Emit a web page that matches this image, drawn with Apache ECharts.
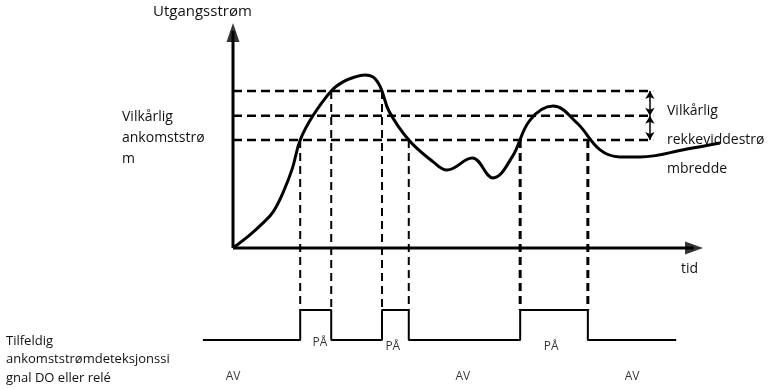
<!DOCTYPE html>
<html>
<head>
<meta charset="utf-8">
<script src="https://cdn.jsdelivr.net/npm/echarts@6/dist/echarts.min.js"></script>
<style>
  html, body { margin: 0; padding: 0; background: #fff; }
  #chart { width: 774px; height: 389px; }
</style>
</head>
<body>
<div id="chart"></div>
<script>
// Output current over time (arbitrary units: time 0..100, current 0..100)
const curveTime    = [0, 3.6, 6.4, 8.5, 10.6, 12.6, 14.3, 17.0, 20.9, 23.4, 26.0, 28.1, 29.8, 30.9, 31.7, 33.2, 37.4, 42.6, 45.5, 50.9, 55.3, 59.4, 63.2, 68.1, 73.2, 78.1, 82.3, 86.6, 96.6, 103.6];
const curveCurrent = [0, 5.8, 11.1, 15.9, 24.3, 35.0, 47.8, 58.5, 69.5, 73.5, 75.7, 76.5, 75.7, 73.0, 69.5, 60.5, 47.8, 38.1, 34.5, 39.8, 31.0, 40.3, 56.6, 62.8, 55.3, 43.4, 40.3, 40.3, 43.8, 46.5];

// Threshold levels (low, middle, high) and where the dashed guides stop
const thresholds = [47.8, 58.5, 69.5];
const thresholdEnd = 89.4;
const bandArrowTime = 88.7;

// Moments where the current crosses a threshold, and the level crossed
const crossTime  = [14.3, 20.9, 31.7, 37.4, 61.1, 75.5];
const crossLevel = [47.8, 69.5, 69.5, 47.8, 47.8, 47.8];

// Detection signal (DO / relay): ON between pairs of crossings
const signalStart = -6.4;
const signalEnd = 94.3;
const signalHigh = -27.4;
const signalLow = -40.7;

// State labels under the signal trace
const onLabelTime  = [18.5, 34.0, 67.7];
const onLabelLevel = [-42.0, -43.4, -43.8];
const offLabelTime  = [0, 48.9, 84.9];
const offLabelLevel = [-57.1, -57.1, -57.1];

// Axis extents
const timeAxisEnd = 100;
const currentAxisEnd = 100;

const FONT = 'Open Sans';

// Step trace of the signal
const signalData = [[signalStart, signalLow]];
crossTime.forEach((t, i) => {
  signalData.push([t, i % 2 === 0 ? signalHigh : signalLow]);
});
signalData.push([signalEnd, signalLow]);

const series = [];

// horizontal threshold guides
thresholds.forEach(v => {
  series.push({
    type: 'line', data: [[0, v], [thresholdEnd, v]], symbol: 'none', silent: true,
    lineStyle: { color: '#000', width: 2.5, type: [9, 5] }, z: 2
  });
});

// vertical guides from each crossing down to the signal
crossTime.forEach((t, i) => {
  series.push({
    type: 'line', data: [[t, crossLevel[i]], [t, signalHigh]], symbol: 'none', silent: true,
    lineStyle: { color: '#000', width: i >= 4 ? 3 : 2, type: [8, 5] }, z: 2
  });
});

// axes drawn as heavy lines with arrowheads
series.push({
  type: 'line', data: [[0, 0], [timeAxisEnd - 2, 0]], symbol: 'none', silent: true,
  lineStyle: { color: '#000', width: 3 }, z: 4
});
series.push({
  type: 'line', data: [[0, 0], [0, currentAxisEnd - 4]], symbol: 'none', silent: true,
  lineStyle: { color: '#000', width: 3 }, z: 4
});
series.push({
  type: 'scatter', silent: true, z: 5,
  data: [{ value: [timeAxisEnd - 1.9, 0], symbolRotate: -90, symbolSize: [13, 18] },
         { value: [0, currentAxisEnd - 4.6], symbolRotate: 0, symbolSize: [13, 19] }],
  symbol: 'triangle', itemStyle: { color: '#000' }
});

// band width arrows between the thresholds
series.push({
  type: 'line', data: [], symbol: 'none', silent: true,
  markLine: {
    silent: true, symbol: ['arrow', 'arrow'], symbolSize: [7, 8],
    label: { show: false },
    lineStyle: { color: '#000', width: 1.5, type: 'solid' },
    data: [
      [{ coord: [bandArrowTime, thresholds[2]] }, { coord: [bandArrowTime, thresholds[1]] }],
      [{ coord: [bandArrowTime, thresholds[1]] }, { coord: [bandArrowTime, thresholds[0]] }]
    ]
  }
});

// current curve
series.push({
  type: 'line', data: curveTime.map((t, i) => [t, curveCurrent[i]]), symbol: 'none',
  smooth: 0.4, silent: true, clip: false,
  lineStyle: { color: '#000', width: 3 }, z: 6
});

// signal trace
series.push({
  type: 'line', data: signalData, step: 'end', symbol: 'none', silent: true,
  lineStyle: { color: '#000', width: 2 }, z: 6
});

// state labels
const stateLabel = (text) => ({
  show: true, position: 'inside', formatter: text,
  fontFamily: FONT, fontSize: 12, color: '#000'
});
series.push({
  type: 'scatter', symbolSize: 0, silent: true,
  data: onLabelTime.map((t, i) => [t, onLabelLevel[i]]),
  label: stateLabel('PÅ')
});
series.push({
  type: 'scatter', symbolSize: 0, silent: true,
  data: offLabelTime.map((t, i) => [t, offLabelLevel[i]]),
  label: stateLabel('AV')
});

const chart = echarts.init(document.getElementById('chart'), null, { renderer: 'canvas' });
chart.setOption({
  animation: false,
  backgroundColor: '#fff',
  grid: { left: 45, right: 774 - 45 - 705, top: 10.7, height: 372.9, containLabel: false },
  xAxis: { type: 'value', min: -40, max: 110, show: false },
  yAxis: { type: 'value', min: -60, max: 105, show: false },
  series,
  graphic: [
    { type: 'text', left: 153, top: 4, style: { text: 'Utgangsstrøm', fontFamily: FONT, fontSize: 15, fill: '#111' } },
    { type: 'text', left: 122, top: 107, style: { text: 'Vilkårlig\nankomststrø\nm', fontFamily: FONT, fontSize: 14, fill: '#111', lineHeight: 21 } },
    { type: 'text', left: 667, top: 97, style: { text: 'Vilkårlig\nrekkeviddestrø\nmbredde', fontFamily: FONT, fontSize: 14, fill: '#111', lineHeight: 29 } },
    { type: 'text', left: 681, top: 262, style: { text: 'tid', fontFamily: FONT, fontSize: 14, fill: '#111' } },
    { type: 'text', left: 6, top: 332, style: { text: 'Tilfeldig\nankomststrømdeteksjonssi\ngnal DO eller relé', fontFamily: FONT, fontSize: 13, fill: '#111', lineHeight: 18.5 } }
  ]
});
</script>
</body>
</html>
